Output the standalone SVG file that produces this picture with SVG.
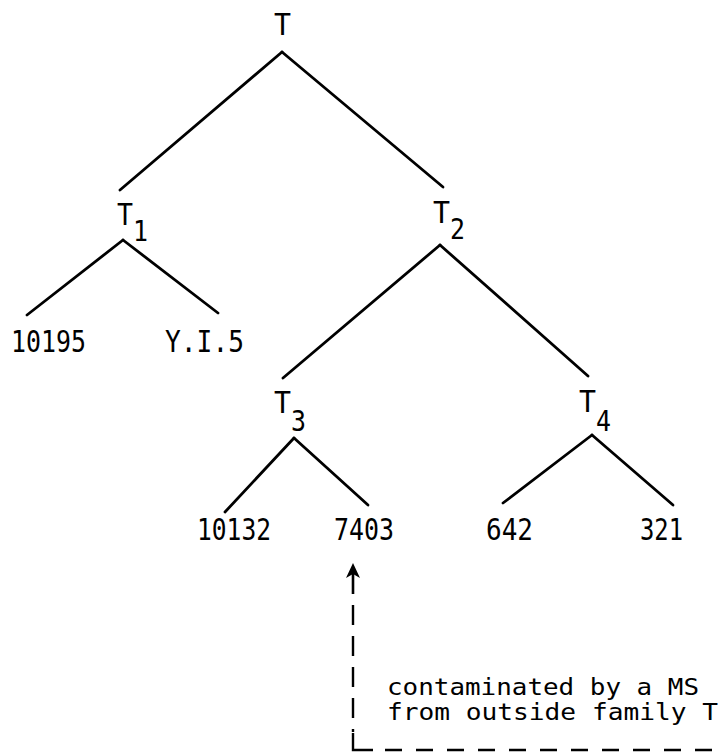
<svg xmlns="http://www.w3.org/2000/svg" width="721" height="752" viewBox="0 0 721 752">
<style>
.lbl{font-family:"DejaVu Sans Mono","Liberation Mono",monospace;font-size:30px;fill:#000}
.sub{font-family:"DejaVu Sans Mono","Liberation Mono",monospace;font-size:29px;fill:#000}
.note{font-family:"DejaVu Sans Mono","Liberation Mono",monospace;font-size:23.5px;fill:#000}
.edge{stroke:#000;stroke-width:2.8;fill:none;stroke-linecap:round}
.dash{stroke:#000;stroke-width:2.4;fill:none;stroke-dasharray:20 11}
</style>
<rect width="721" height="752" fill="#fff"/>
<g id="connectors">
<line class="edge" x1="282" y1="52" x2="120" y2="190"/>
<line class="edge" x1="282" y1="52" x2="443" y2="187"/>
<line class="edge" x1="123" y1="240" x2="27" y2="315"/>
<line class="edge" x1="123" y1="240" x2="218" y2="313"/>
<line class="edge" x1="440" y1="245" x2="283" y2="378"/>
<line class="edge" x1="440" y1="245" x2="588" y2="376"/>
<line class="edge" stroke-width="2.3" x1="294" y1="438" x2="225" y2="512"/>
<line class="edge" stroke-width="2.3" x1="294" y1="438" x2="368" y2="505"/>
<line class="edge" x1="592" y1="435" x2="503" y2="503"/>
<line class="edge" x1="592" y1="435" x2="673" y2="505"/>
<g id="contamination">
<polygon points="353,563 346,578 353,574 360,578" fill="#000"/>
<line x1="353" y1="572" x2="353" y2="594" stroke="#000" stroke-width="2.6"/>
<path class="dash" d="M353,605 V732"/>
<path d="M353,733 V750 H373" stroke="#000" stroke-width="2.4" fill="none"/>
<path class="dash" d="M385,750 H721" style="stroke-dasharray:17 14"/>
</g>
</g>
<g id="T"><text class="lbl" x="274" y="35" textLength="17" lengthAdjust="spacingAndGlyphs">T</text></g>
<g id="T1"><text class="lbl" x="117" y="225" textLength="16" lengthAdjust="spacingAndGlyphs">T</text><text class="sub" x="133" y="241" textLength="15" lengthAdjust="spacingAndGlyphs">1</text></g>
<g id="T2"><text class="lbl" x="433" y="223" textLength="17" lengthAdjust="spacingAndGlyphs">T</text><text class="sub" x="450" y="239" textLength="15" lengthAdjust="spacingAndGlyphs">2</text></g>
<g id="T3"><text class="lbl" x="274" y="413" textLength="17" lengthAdjust="spacingAndGlyphs">T</text><text class="sub" x="291" y="431" textLength="15" lengthAdjust="spacingAndGlyphs">3</text></g>
<g id="T4"><text class="lbl" x="579" y="412" textLength="17" lengthAdjust="spacingAndGlyphs">T</text><text class="sub" x="596" y="431" textLength="15" lengthAdjust="spacingAndGlyphs">4</text></g>
<g id="n10195"><text class="lbl" x="11" y="352" textLength="75" lengthAdjust="spacingAndGlyphs">10195</text></g>
<g id="nYI5"><text class="lbl" x="165" y="352" textLength="79" lengthAdjust="spacingAndGlyphs">Y.I.5</text></g>
<g id="n10132"><text class="lbl" x="197" y="540" textLength="74" lengthAdjust="spacingAndGlyphs">10132</text></g>
<g id="n7403"><text class="lbl" x="334" y="540" textLength="60" lengthAdjust="spacingAndGlyphs">7403</text></g>
<g id="n642"><text class="lbl" x="486" y="540" textLength="47" lengthAdjust="spacingAndGlyphs">642</text></g>
<g id="n321"><text class="lbl" x="640" y="540" textLength="43" lengthAdjust="spacingAndGlyphs">321</text></g>
<g id="note">
<text class="note" x="387" y="695" textLength="312" lengthAdjust="spacingAndGlyphs">contaminated by a MS</text>
<text class="note" x="387" y="720" textLength="331" lengthAdjust="spacingAndGlyphs">from outside family T</text>
</g>
</svg>
